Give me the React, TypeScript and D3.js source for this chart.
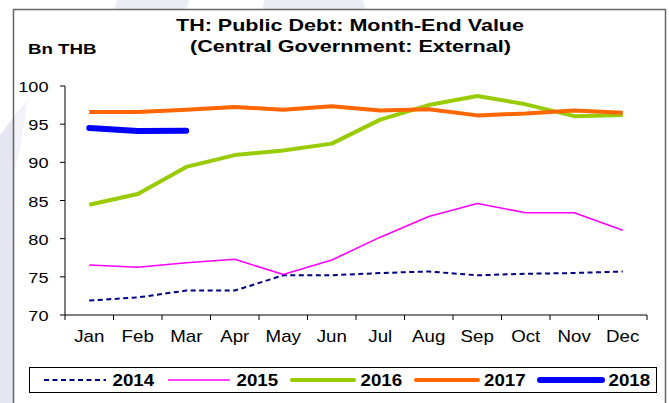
import React from "react";
import * as d3 from "d3";

const months = ["Jan", "Feb", "Mar", "Apr", "May", "Jun", "Jul", "Aug", "Sep", "Oct", "Nov", "Dec"];
const yTicks = [70, 75, 80, 85, 90, 95, 100];

const v2014 = [71.9, 72.3, 73.2, 73.2, 75.2, 75.2, 75.5, 75.7, 75.2, 75.4, 75.5, 75.7];
const v2015 = [76.55, 76.25, 76.85, 77.3, 75.3, 77.2, 80.2, 82.9, 84.6, 83.4, 83.4, 81.1];
const v2016 = [84.45, 85.85, 89.4, 90.95, 91.55, 92.45, 95.6, 97.5, 98.7, 97.6, 96.05, 96.2];
const v2017 = [96.6, 96.6, 96.9, 97.25, 96.9, 97.35, 96.8, 96.95, 96.15, 96.4, 96.8, 96.5];
const v2018 = [94.5, 94.1, 94.15];

const series = [
  { name: "2014", values: v2014, color: "#000080", width: 2, dash: "5,3.5" },
  { name: "2015", values: v2015, color: "#ff00ff", width: 1.6, dash: undefined },
  { name: "2016", values: v2016, color: "#99cc00", width: 4, dash: undefined },
  { name: "2017", values: v2017, color: "#ff6600", width: 4, dash: undefined },
  { name: "2018", values: v2018, color: "#0000ff", width: 6, dash: undefined }
];

const W = 669;
const H = 403;
const left = 65;
const right = 647;
const top = 86;
const bottom = 315;
const sx = 1.17; // text in the picture is a bit stretched sideways

const x = d3.scaleBand<string>().domain(months).range([left, right]);
const y = d3.scaleLinear().domain([70, 100]).range([bottom, top]);

const font = "'Liberation Sans', Arial, sans-serif";

function T(props: { x: number; y: number; anchor?: string; size: number; bold?: boolean; children: any }) {
  return (
    <text
      transform={`translate(${props.x},${props.y}) scale(${sx},1)`}
      textAnchor={props.anchor || "start"}
      fontFamily={font}
      fontWeight={props.bold ? "bold" : "normal"}
      fontSize={props.size}
    >
      {props.children}
    </text>
  );
}

export default function App() {
  const line = d3
    .line<number>()
    .x((_, i) => (x(months[i]) as number) + x.bandwidth() / 2)
    .y(d => y(d));

  const legendLines = [44, 168, 292, 416, 540];
  const legendText = [112.5, 236.5, 360.5, 484, 608.5];

  return (
    <svg width={W} height={H} style={{ position: "absolute", left: 0, top: 0 }}>
      <rect x={0} y={0} width={W} height={H} fill="#ffffff" />
      {/* faint watermark, only seen round the frame */}
      <polygon points="0,135 13,118 13,403 0,403" fill="#e6e6f2" />
      <polygon points="13,118 28,100 20,150 13,175" fill="#f3f3f9" />
      <polygon points="118,0 190,0 186,9 114,9" fill="#ececf5" />
      <polygon points="265,0 362,0 366,9 262,9" fill="#ececf5" />
      <rect x={13.5} y={9.5} width={652} height={H} fill="none" stroke="#666" strokeWidth={1.5} />

      <text x={350} y={31} textAnchor="middle" fontFamily={font} fontWeight="bold" fontSize={17}
        textLength={348} lengthAdjust="spacingAndGlyphs">
        TH: Public Debt: Month-End Value
      </text>
      <text x={350.5} y={52} textAnchor="middle" fontFamily={font} fontWeight="bold" fontSize={17}
        textLength={321} lengthAdjust="spacingAndGlyphs">
        (Central Government: External)
      </text>
      <text x={28} y={54} fontFamily={font} fontWeight="bold" fontSize={15.5}
        textLength={68.5} lengthAdjust="spacingAndGlyphs">
        Bn THB
      </text>

      {/* y axis */}
      <line x1={left} x2={left} y1={top} y2={bottom} stroke="#000" strokeWidth={1} />
      {yTicks.map(t => (
        <g key={t}>
          <line x1={left - 5} x2={left} y1={y(t)} y2={y(t)} stroke="#000" />
          <T x={48.5} y={y(t) + 6} anchor="end" size={15.5}>
            {t}
          </T>
        </g>
      ))}

      {/* x axis */}
      <line x1={left} x2={right} y1={bottom} y2={bottom} stroke="#000" />
      {months.map(m => (
        <line
          key={"t" + m}
          x1={x(m) as number}
          x2={x(m) as number}
          y1={bottom}
          y2={bottom + 5}
          stroke="#000"
        />
      ))}
      <line x1={right} x2={right} y1={bottom} y2={bottom + 5} stroke="#000" />
      {months.map(m => (
        <T key={m} x={(x(m) as number) + x.bandwidth() / 2} y={342} anchor="middle" size={16}>
          {m}
        </T>
      ))}

      {series.map(s => (
        <path
          key={s.name}
          d={line(s.values) as string}
          fill="none"
          stroke={s.color}
          strokeWidth={s.width}
          strokeDasharray={s.dash}
          strokeLinecap={s.name === "2018" ? "round" : "butt"}
          strokeLinejoin="round"
        />
      ))}

      {/* legend */}
      <rect x={29.5} y={367.5} width={627} height={25} fill="#fff" stroke="#000" strokeWidth={1} />
      {series.map((s, i) => (
        <g key={"l" + s.name}>
          <line
            x1={legendLines[i]}
            x2={legendLines[i] + 62}
            y1={380}
            y2={380}
            stroke={s.color}
            strokeWidth={s.width}
            strokeDasharray={s.dash}
            strokeLinecap={s.width >= 4 ? "round" : "butt"}
          />
          <T x={legendText[i]} y={385.7} size={16} bold>
            {s.name}
          </T>
        </g>
      ))}
    </svg>
  );
}
